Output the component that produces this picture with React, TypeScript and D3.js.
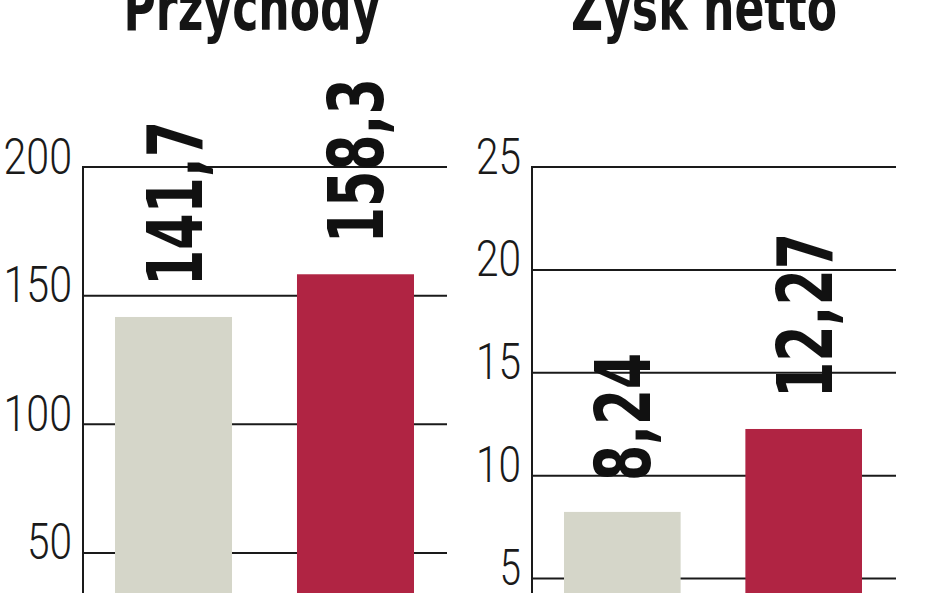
import React from "react";
import * as d3 from "d3";

const revenueYears = ["2011", "2012"];
const revenueValues = [141.7, 158.3];
const revenueLabels = ["141,7", "158,3"];
const revenueTicks = [50, 100, 150, 200];

const profitYears = ["2011", "2012"];
const profitValues = [8.24, 12.27];
const profitLabels = ["8,24", "12,27"];
const profitTicks = [5, 10, 15, 20, 25];

const barColors = ["#d5d6c9", "#b02443"];

const W = 948;
const H = 593;
const FONT = "'DejaVu Sans Condensed', 'Liberation Sans Narrow', 'DejaVu Sans', sans-serif";
const THIN = "Roboto, 'Open Sans', 'DejaVu Sans Condensed', sans-serif";

type PanelProps = {
  title: string;
  titleX: number;
  titleLen: number;
  axisX: number;
  right: number;
  bandLeft: number;
  bandRight: number;
  yMax: number;
  years: string[];
  values: number[];
  labels: string[];
  ticks: number[];
};

function labelLen(s: string) {
  let n = 0;
  for (const c of s) n += c === "," ? 17 : 37;
  return n;
}

function Panel(p: PanelProps) {
  const y = d3.scaleLinear().domain([0, p.yMax]).range([681.5, 167]);
  const x = d3
    .scaleBand<string>()
    .domain(p.years)
    .range([p.bandLeft, p.bandRight])
    .paddingInner(0.357)
    .paddingOuter(0);
  const top = y(p.yMax);
  return (
    <g>
      <text
        x={p.titleX}
        y={30}
        textAnchor="middle"
        fontFamily={FONT}
        fontWeight="bold"
        fontSize={64}
        fill="#151515"
        textLength={p.titleLen}
        lengthAdjust="spacingAndGlyphs"
      >
        {p.title}
      </text>
      {p.ticks.map((t) => (
        <g key={t}>
          <line x1={p.axisX} x2={p.right} y1={y(t)} y2={y(t)} stroke="#1a1a1a" strokeWidth={2} />
          <text
            x={p.axisX - 11}
            y={y(t) + 6.5}
            textAnchor="end"
            fontFamily={THIN}
            fontWeight={300}
            fontSize={50}
            fill="#1a1a1a"
            textLength={String(t).length * 23.5 - 2}
            lengthAdjust="spacingAndGlyphs"
          >
            {t}
          </text>
        </g>
      ))}
      <line x1={p.axisX} x2={p.axisX} y1={top - 1} y2={H + 10} stroke="#1a1a1a" strokeWidth={2} />
      {p.values.map((v, i) => (
        <rect
          key={i}
          x={x(p.years[i])}
          y={y(v)}
          width={x.bandwidth()}
          height={H + 10 - y(v)}
          fill={barColors[i]}
        />
      ))}
      {p.values.map((v, i) => {
        const cx = (x(p.years[i]) as number) + x.bandwidth() / 2 + 28;
        const cy = y(v) - 31;
        return (
          <text
            key={"l" + i}
            transform={`translate(${cx},${cy}) rotate(-90)`}
            fontFamily={FONT}
            fontWeight="bold"
            fontSize={76}
            fill="#111"
            textLength={labelLen(p.labels[i])}
            lengthAdjust="spacingAndGlyphs"
          >
            {p.labels[i]}
          </text>
        );
      })}
    </g>
  );
}

export default function App() {
  return (
    <svg
      width={W}
      height={H}
      viewBox={`0 0 ${W} ${H}`}
      style={{ position: "absolute", left: 0, top: 0, background: "#fff" }}
    >
      <rect width={W} height={H} fill="#fff" />
      <Panel
        title="Przychody"
        titleX={252}
        titleLen={257}
        axisX={83}
        right={447}
        bandLeft={115}
        bandRight={414}
        yMax={200}
        years={revenueYears}
        values={revenueValues}
        labels={revenueLabels}
        ticks={revenueTicks}
      />
      <Panel
        title="Zysk netto"
        titleX={704}
        titleLen={266}
        axisX={532}
        right={896}
        bandLeft={564}
        bandRight={862}
        yMax={25}
        years={profitYears}
        values={profitValues}
        labels={profitLabels}
        ticks={profitTicks}
      />
    </svg>
  );
}
